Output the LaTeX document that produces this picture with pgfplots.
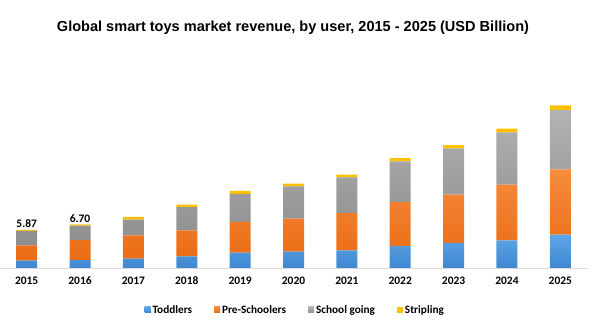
\documentclass[border=0pt]{standalone}
\usepackage{pgfplots}
\pgfplotsset{compat=1.18}
\usepackage{fontspec}
\setmainfont{Carlito}
\newfontfamily\titlefont{Liberation Sans}
\definecolor{cbluet}{RGB}{96,165,230}
\definecolor{cblueb}{RGB}{62,135,208}
\definecolor{coranget}{RGB}{246,140,62}
\definecolor{corangeb}{RGB}{234,108,20}
\definecolor{cgrayt}{RGB}{178,178,178}
\definecolor{cgrayb}{RGB}{142,142,142}
\definecolor{cyellow}{RGB}{255,192,0}
\begin{document}
\begin{tikzpicture}
\path[use as bounding box] (0,0) rectangle (603bp,322bp);
\node[font=\titlefont\bfseries\fontsize{14.6}{17}\selectfont] at (293bp,294bp) {Global smart toys market revenue, by user, 2015 - 2025 (USD Billion)};
\begin{axis}[
  at={(0bp,54bp)}, anchor=south west,
  scale only axis, width=587bp, height=175.5bp,
  ybar stacked, bar width=21bp,
  xmin=-0.5, xmax=10.5, ymin=0, ymax=27,
  axis y line=none, axis x line=bottom,
  x axis line style={draw=black!15, -},
  xtick=data,
  xticklabels={2015,2016,2017,2018,2019,2020,2021,2022,2023,2024,2025},
  xticklabel style={font=\bfseries\fontsize{11.5}{13}\selectfont, yshift=-5bp},
  major tick length=0,
  legend columns=4,
  legend style={at={(0.503,-0.239)}, anchor=center, draw=none, font=\bfseries\fontsize{11.3}{13}\selectfont,
    /tikz/every even column/.append style={column sep=20bp}},
  legend image code/.code={\fill[#1] (0bp,-3bp) rectangle (6bp,3bp);},
]
\addplot[top color=cbluet, bottom color=cblueb, draw=none] coordinates {(0,1.15) (1,1.2) (2,1.45) (3,1.8) (4,2.35) (5,2.5) (6,2.72) (7,3.38) (8,3.85) (9,4.26) (10,5.14)};
\addplot[top color=coranget, bottom color=corangeb, draw=none] coordinates {(0,2.32) (1,3.1) (2,3.58) (3,4.0) (4,4.75) (5,5.1) (6,5.74) (7,6.77) (8,7.45) (9,8.57) (10,10.05)};
\addplot[top color=cgrayt, bottom color=cgrayb, draw=none] coordinates {(0,2.24) (1,2.2) (2,2.42) (3,3.58) (4,4.3) (5,4.97) (6,5.49) (7,6.26) (8,7.12) (9,8.05) (10,9.08)};
\addplot[fill=cyellow, draw=none] coordinates {(0,0.16) (1,0.2) (2,0.4) (3,0.37) (4,0.45) (5,0.42) (6,0.42) (7,0.5) (8,0.5) (9,0.57) (10,0.75)};
\legend{Toddlers,Pre-Schoolers,School going,Stripling}
\node[font=\bfseries\fontsize{11.5}{13}\selectfont, anchor=south, inner sep=2bp] at (axis cs:0,5.87) {5.87};
\node[font=\bfseries\fontsize{11.5}{13}\selectfont, anchor=south, inner sep=2bp] at (axis cs:1,6.70) {6.70};
\end{axis}
\end{tikzpicture}
\end{document}
